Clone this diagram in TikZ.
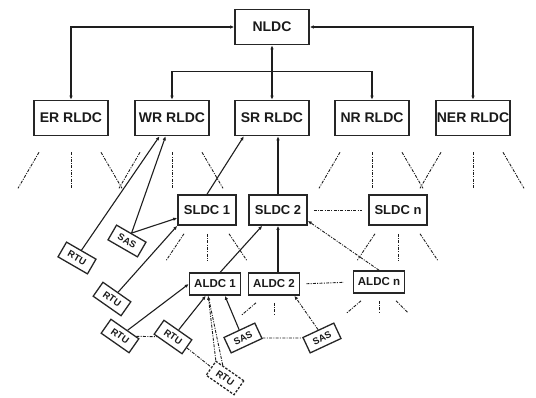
\documentclass[tikz,border=0pt]{standalone}
\usepackage{fontspec}
\setmainfont{Liberation Sans}
\usetikzlibrary{calc, arrows.meta}

\begin{document}
\begin{tikzpicture}[x=1pt, y=-1pt, >={Latex[length=4pt,width=3.5pt]},
    box/.style={draw=borderColour, line width=1.6pt, inner sep=0pt, text=textColour},
    rldc/.style={box, minimum width=74pt, minimum height=35pt, font=\fontsize{14}{14}\selectfont\bfseries},
    sldc/.style={box, minimum width=58pt, minimum height=30pt, font=\fontsize{13}{13}\selectfont\bfseries},
    aldc/.style={box, minimum width=51pt, minimum height=22pt, font=\fontsize{11.5}{11.5}\selectfont\bfseries},
    field/.style={box, line width=1.3pt, minimum width=34pt, minimum height=17pt, font=\fontsize{9.5}{9.5}\selectfont\bfseries},
    link/.style={draw=lineColour, line width=1.1pt},
    dashlink/.style={link, line width=0.9pt, dash pattern=on 3pt off 1.3pt on 1pt off 1.3pt}
]
    % Define colors
    \definecolor{borderColour}{HTML}{262626}
    \definecolor{lineColour}{HTML}{1E1E1E}
    \definecolor{textColour}{HTML}{1A1A1A}

    % Fix the page size
    \useasboundingbox (0,0) rectangle (536,398);

    % National and regional centres
    \node[rldc] (NLDC) at (272,27) {NLDC};
    \node[rldc] (ER) at (71,118) {ER RLDC};
    \node[rldc] (WR) at (172,118) {WR RLDC};
    \node[rldc] (SR) at (272,118) {SR RLDC};
    \node[rldc] (NR) at (372,118) {NR RLDC};
    \node[rldc] (NER) at (473,118) {NER RLDC};

    % State centres
    \node[sldc] (SLDCa) at (207,210) {SLDC 1};
    \node[sldc] (SLDCb) at (278,210) {SLDC 2};
    \node[sldc] (SLDCn) at (398,210) {SLDC n};

    % Area centres
    \node[aldc] (ALDCa) at (215,284) {ALDC 1};
    \node[aldc] (ALDCb) at (274,284) {ALDC 2};
    \node[aldc] (ALDCn) at (379,282) {ALDC n};

    % Field units
    \node[field, rotate=-30] (RTUa) at (77,258) {RTU};
    \node[field, rotate=-30] (SASa) at (127,241) {SAS};
    \node[field, rotate=-35] (RTUb) at (112,299) {RTU};
    \node[field, rotate=-35] (RTUc) at (120,336) {RTU};
    \node[field, rotate=-35] (RTUd) at (173,337) {RTU};
    \node[field, rotate=-35, dash pattern=on 2.5pt off 1.5pt] (RTUe) at (225,378) {RTU};
    \node[field, rotate=25] (SASb) at (243,338) {SAS};
    \node[field, rotate=25] (SASc) at (322,338) {SAS};

    % NLDC links
    \coordinate (bus) at ($(NLDC.south)+(0,26)$);
    \draw[link, <->] (NLDC.west) -| (ER.north);
    \draw[link, <->] (NLDC.east) -| (NER.north);
    \draw[link, ->] (bus) -- (NLDC.south);
    \draw[link, ->] (bus) -| (WR.north);
    \draw[link, ->] (bus) -| (NR.north);
    \draw[link, ->] (bus) -- (SR.north);

    % Fans below regional centres
    \foreach \n in {ER, WR, NR, NER} {
        \draw[dashlink] ($(\n.south)+(-32,16)$) -- ++(-21,36);
        \draw[dashlink] ($(\n.south)+(0,16)$) -- ++(0,36);
        \draw[dashlink] ($(\n.south)+(30,16)$) -- ++(21,36);
    }
    % Fans below state centres
    \foreach \n in {SLDCa, SLDCn} {
        \draw[dashlink] ($(\n.south)+(-23,8)$) -- ++(-18,27);
        \draw[dashlink] ($(\n.south)+(0,8)$) -- ++(0,27);
        \draw[dashlink] ($(\n.south)+(22,8)$) -- ++(18,27);
    }
    % Fans below area centres
    \draw[dashlink] ($(ALDCb.south)+(-18,7)$) -- ++(-14,12);
    \draw[dashlink] ($(ALDCb.south)+(0,7)$) -- ++(0,12);
    \draw[dashlink] ($(ALDCn.south)+(-18,7)$) -- ++(-14,12);
    \draw[dashlink] ($(ALDCn.south)+(0,7)$) -- ++(0,12);
    \draw[dashlink] ($(ALDCn.south)+(17,7)$) -- ++(12,12);

    % State to region
    \draw[link, ->] (SLDCa.north) -- (SR.-147);
    \draw[link, ->] (SLDCb.north) -- (SLDCb.north |- SR.south);
    \draw[dashlink, shorten <=6pt, shorten >=6pt] (SLDCb.east) -- (SLDCn.west);

    % Area to state
    \draw[link, ->] (ALDCa.66) -- (SLDCb.-135);
    \draw[link, ->] (ALDCb.north -| SLDCb.south) -- (SLDCb.south);
    \draw[dashlink, ->] (ALDCn.north) -- (SLDCb.-20);
    \draw[dashlink, shorten <=6pt, shorten >=9pt] (ALDCb.east) -- (ALDCn.west);

    % Field units to centres
    \draw[link, ->] (RTUa.north) -- (WR);
    \draw[link, ->] (SASa.north) -- (WR);
    \draw[link, ->] (SASa.north) -- (SLDCa.-165);
    \draw[link, ->] (RTUb) -- (SLDCa.south west);
    \draw[link, ->] (RTUc) -- (ALDCa.west);
    \draw[link, ->] (RTUd) -- (ALDCa.-128);
    \draw[dashlink, ->] (RTUe.north west) -- (ALDCa.-120);
    \draw[dashlink] (RTUe.135) -- (ALDCa.-120);
    \draw[link, ->] (SASb.north) -- (ALDCa.-50);
    \draw[dashlink, ->] (SASc.north) -- (ALDCb.-30);

    % Links between field units
    \draw[dashlink] (RTUc) -- (RTUd);
    \draw[dashlink] (RTUd) -- (RTUe);
    \draw[dashlink] (SASb) -- (SASc);

\end{tikzpicture}
\end{document}
